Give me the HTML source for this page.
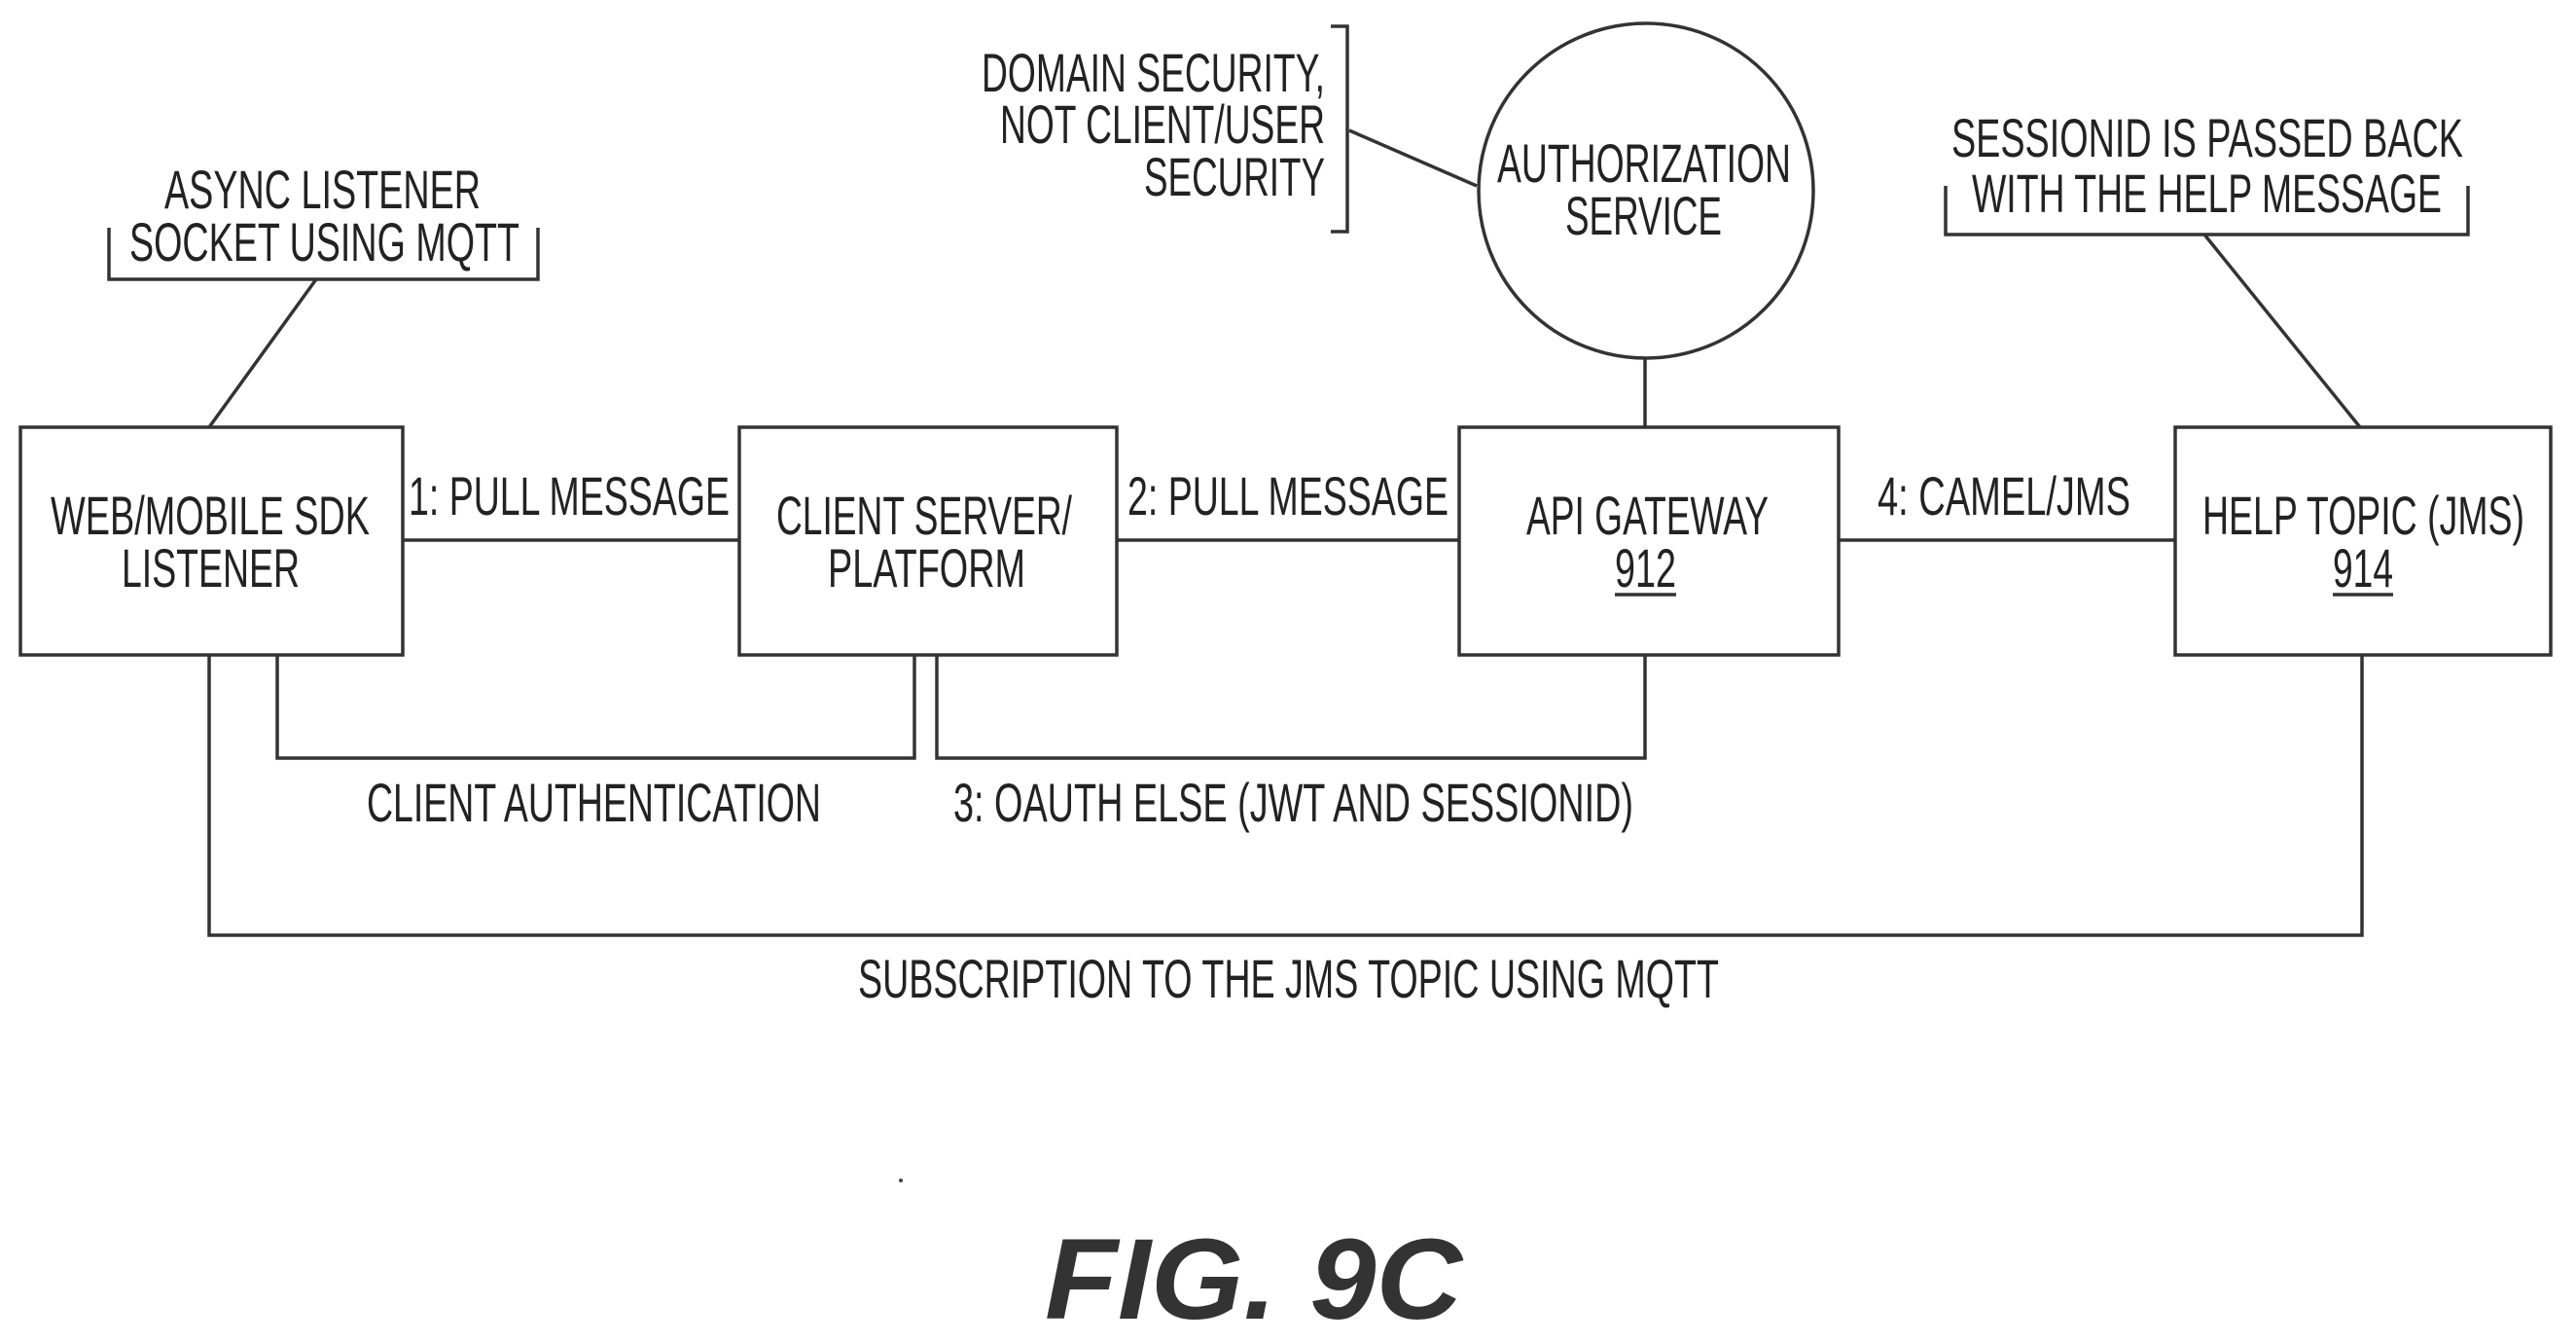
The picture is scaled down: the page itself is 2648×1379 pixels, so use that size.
<!DOCTYPE html>
<html><head><meta charset="utf-8"><style>
html,body{margin:0;padding:0;background:#fff;}
svg{display:block;}
text{font-family:"Liberation Sans Narrow","Liberation Sans",sans-serif;font-size:56px;fill:#222;}
</style></head><body>
<svg width="2648" height="1379" viewBox="0 0 2648 1379" xmlns="http://www.w3.org/2000/svg">
<g fill="none" stroke="#333" stroke-width="3.5">
<rect x="21" y="439" width="393" height="234"/>
<rect x="760" y="439" width="388" height="234"/>
<rect x="1500" y="439" width="390" height="234"/>
<rect x="2236" y="439" width="386" height="234"/>
<circle cx="1692" cy="196" r="172"/>
<line x1="414" y1="555" x2="760" y2="555"/>
<line x1="1148" y1="555" x2="1500" y2="555"/>
<line x1="1890" y1="555" x2="2236" y2="555"/>
<line x1="1691" y1="368" x2="1691" y2="439"/>
<polyline points="285,673 285,779 940,779 940,673"/>
<polyline points="963,673 963,779 1691,779 1691,673"/>
<polyline points="215,673 215,961 2428,961 2428,673"/>
<polyline points="112,234 112,287 553,287 553,234"/>
<line x1="325" y1="287" x2="215" y2="439"/>
<polyline points="1368,27 1385,27 1385,238 1368,238"/>
<line x1="1387" y1="134" x2="1518" y2="191"/>
<polyline points="2000,191 2000,241 2537,241 2537,191"/>
<line x1="2266" y1="241" x2="2426" y2="439"/>
<line x1="1660" y1="611" x2="1723" y2="611"/>
<line x1="2398" y1="611" x2="2460" y2="611"/>
</g>
<g lengthAdjust="spacingAndGlyphs">
<text x="169" y="214" textLength="325" lengthAdjust="spacingAndGlyphs">ASYNC LISTENER</text>
<text x="133" y="268" textLength="401" lengthAdjust="spacingAndGlyphs">SOCKET USING MQTT</text>
<text x="52" y="549" textLength="328" lengthAdjust="spacingAndGlyphs">WEB/MOBILE SDK</text>
<text x="125" y="603" textLength="183" lengthAdjust="spacingAndGlyphs">LISTENER</text>
<text x="420" y="529" textLength="330" lengthAdjust="spacingAndGlyphs">1: PULL MESSAGE</text>
<text x="798" y="549" textLength="304" lengthAdjust="spacingAndGlyphs">CLIENT SERVER/</text>
<text x="851" y="603" textLength="203" lengthAdjust="spacingAndGlyphs">PLATFORM</text>
<text x="1159" y="529" textLength="330" lengthAdjust="spacingAndGlyphs">2: PULL MESSAGE</text>
<text x="377" y="844" textLength="467" lengthAdjust="spacingAndGlyphs">CLIENT AUTHENTICATION</text>
<text x="980" y="844" textLength="699" lengthAdjust="spacingAndGlyphs">3: OAUTH ELSE (JWT AND SESSIONID)</text>
<text x="882" y="1025" textLength="885" lengthAdjust="spacingAndGlyphs">SUBSCRIPTION TO THE JMS TOPIC USING MQTT</text>
<text x="1009" y="94" textLength="353" lengthAdjust="spacingAndGlyphs">DOMAIN SECURITY,</text>
<text x="1028" y="147" textLength="334" lengthAdjust="spacingAndGlyphs">NOT CLIENT/USER</text>
<text x="1176" y="201" textLength="186" lengthAdjust="spacingAndGlyphs">SECURITY</text>
<text x="1539" y="187" textLength="302" lengthAdjust="spacingAndGlyphs">AUTHORIZATION</text>
<text x="1609" y="241" textLength="161" lengthAdjust="spacingAndGlyphs">SERVICE</text>
<text x="1569" y="549" textLength="249" lengthAdjust="spacingAndGlyphs">API GATEWAY</text>
<text x="1660" y="603" textLength="63" lengthAdjust="spacingAndGlyphs">912</text>
<text x="1930" y="529" textLength="260" lengthAdjust="spacingAndGlyphs">4: CAMEL/JMS</text>
<text x="2264" y="549" textLength="331" lengthAdjust="spacingAndGlyphs">HELP TOPIC (JMS)</text>
<text x="2398" y="603" textLength="62" lengthAdjust="spacingAndGlyphs">914</text>
<text x="2006" y="161" textLength="526" lengthAdjust="spacingAndGlyphs">SESSIONID IS PASSED BACK</text>
<text x="2027" y="218" textLength="483" lengthAdjust="spacingAndGlyphs">WITH THE HELP MESSAGE</text>
</g>
<circle cx="926" cy="1213" r="2" fill="#444"/>
<text x="1074" y="1355" textLength="429" lengthAdjust="spacingAndGlyphs" style="font-family:'Liberation Sans',sans-serif;font-weight:bold;font-style:italic;font-size:118px;fill:#333">FIG. 9C</text>
</svg>
</body></html>
